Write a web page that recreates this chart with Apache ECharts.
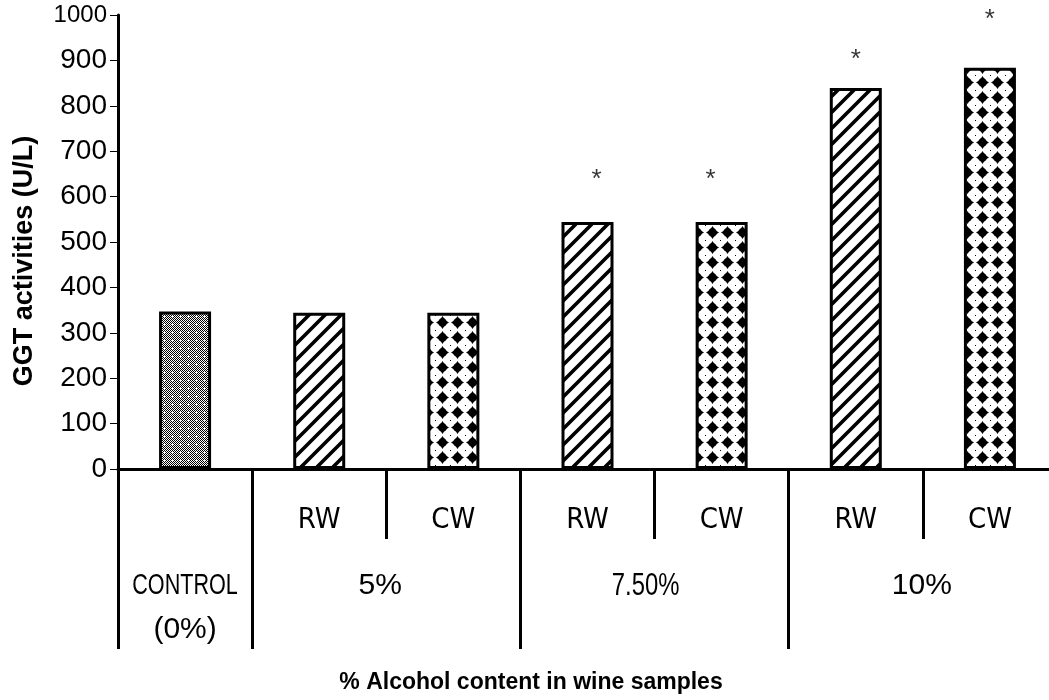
<!DOCTYPE html>
<html>
<head>
<meta charset="utf-8">
<script src="https://cdn.jsdelivr.net/npm/echarts@6/dist/echarts.min.js"></script>
<style>
html,body{margin:0;padding:0;background:#fff;}
#main{width:1049px;height:700px;}
</style>
</head>
<body>
<div id="main"></div>
<script>
// data
var categories = ['CONTROL', 'RW', 'CW', 'RW', 'CW', 'RW', 'CW'];
var fills = ['control', 'rw', 'cw', 'rw', 'cw', 'rw', 'cw'];
var ggt = [347, 344, 344, 544, 544, 839, 884];

var groupLabels = ['CONTROL', '5%', '7.50%', '10%'];
var groupFirst = [0, 1, 3, 5];
var groupLast = [0, 2, 4, 6];

// significance stars (category index, height in U/L)
var starCats = [3, 4, 5, 6];
var starLevel = [650, 650, 914, 1002];

var NARROW = "'Liberation Sans Narrow','DejaVu Sans Condensed','Arial Narrow',sans-serif";
var REGULAR = "'Liberation Sans',Arial,sans-serif";

function tile(w, h, paint) {
	var c = document.createElement('canvas');
	c.width = w; c.height = h;
	var g = c.getContext('2d');
	g.fillStyle = '#fff';
	g.fillRect(0, 0, w, h);
	paint(g);
	return {image: c, repeat: 'repeat'};
}

// fine dotted grey texture of the control bar
var controlFill = tile(8, 8, function(g){
	g.fillStyle = '#000';
	for (var y = 0; y < 8; y++) {
		for (var x = 0; x < 8; x++) {
			if ((x + y) % 2 === 0) g.fillRect(x, y, 1, 1);
		}
	}
	g.fillStyle = '#fff';
	g.fillRect(3, 4, 3, 1);
	g.fillRect(4, 3, 1, 3);
});

// diagonal hatch
var rwFill = tile(16, 16, function(g){
	g.strokeStyle = '#000';
	g.lineWidth = 3.6;
	g.beginPath();
	g.moveTo(-4, 20); g.lineTo(20, -4);
	g.moveTo(-12, 12); g.lineTo(12, -12);
	g.moveTo(4, 28); g.lineTo(28, 4);
	g.stroke();
});

// black diamonds
var cwFill = tile(15, 15, function(g){
	g.fillStyle = '#000';
	g.beginPath();
	g.arc(7.5, 7.5, 4.4, 0, Math.PI * 2);
	g.fill();
	g.beginPath();
	g.moveTo(7.5, 1); g.lineTo(11.5, 7.5); g.lineTo(7.5, 14); g.lineTo(3.5, 7.5);
	g.closePath();
	g.fill();
	g.beginPath();
	g.moveTo(1, 7.5); g.lineTo(7.5, 3.5); g.lineTo(14, 7.5); g.lineTo(7.5, 11.5);
	g.closePath();
	g.fill();
	g.fillRect(0, 0, 1, 1);
});

var fillMap = {control: controlFill, rw: rwFill, cw: cwFill};

var barData = [];
for (var i = 0; i < ggt.length; i++) {
	barData.push({value: ggt[i], itemStyle: {color: fillMap[fills[i]]}});
}
var starShift = [9, -11, 0, 0];
var starData = [];
for (var j = 0; j < starCats.length; j++) {
	starData.push({value: [starCats[j], starLevel[j]], label: {offset: [starShift[j], 6]}});
}

var myChart = echarts.init(document.getElementById('main'));

var option = {
	animation: false,
	backgroundColor: '#fff',
	grid: {left: 118, top: 15, width: 939, height: 454, outerBoundsMode: 'none', containLabel: false},
	xAxis: [
		{
			type: 'category',
			data: categories,
			position: 'bottom',
			axisLine: {show: true, lineStyle: {color: '#000', width: 3}},
			axisTick: {
				show: true, length: 70,
				interval: function(idx){ return idx === 2 || idx === 4 || idx === 6; },
				lineStyle: {color: '#000', width: 3}
			},
			axisLabel: {
				show: true, interval: 0, margin: 36,
				fontFamily: NARROW, fontSize: 29, lineHeight: 30, color: '#000',
				formatter: function(v, idx){ return idx === 0 ? '' : v; }
			},
			splitLine: {show: false}
		},
		{
			type: 'category',
			data: categories,
			position: 'bottom',
			axisLine: {show: false},
			axisTick: {
				show: true, length: 180,
				interval: function(idx){ return idx === 0 || idx === 1 || idx === 3 || idx === 5; },
				lineStyle: {color: '#000', width: 3}
			},
			axisLabel: {show: false},
			splitLine: {show: false}
		}
	],
	yAxis: {
		type: 'value',
		min: 0, max: 1000, interval: 100,
		axisLine: {show: true, lineStyle: {color: '#000', width: 3}},
		axisTick: {show: true, length: 8, lineStyle: {color: '#000', width: 1}},
		axisLabel: {
			margin: 11, fontFamily: REGULAR, fontSize: 28, color: '#000',
			formatter: function(v){ return v === 1000 ? '{n|1000}' : String(v); },
			rich: {n: {fontFamily: REGULAR, fontSize: 24, color: '#000'}}
		},
		splitLine: {show: false}
	},
	series: [
		{
			type: 'bar',
			xAxisIndex: 0,
			barWidth: 52,
			data: barData,
			itemStyle: {borderColor: '#000', borderWidth: 3}
		},
		{
			type: 'scatter',
			xAxisIndex: 0,
			clip: false,
			symbolSize: 1,
			itemStyle: {color: 'rgba(0,0,0,0)'},
			label: {
				show: true, position: 'inside', formatter: '*',
				fontFamily: REGULAR, fontSize: 26, color: '#000'
			},
			data: starData,
			z: 5
		}
	]
};

myChart.setOption(option);

// group labels under the RW / CW row, placed from the axis scale
var labelNudge = [0, -6, -9, -1];
var graphics = [];
var base = myChart.convertToPixel({gridIndex: 0}, [0, 0]);
for (var k = 0; k < groupLabels.length; k++) {
	var a = myChart.convertToPixel({gridIndex: 0}, [groupFirst[k], 0]);
	var b = myChart.convertToPixel({gridIndex: 0}, [groupLast[k], 0]);
	var cx = (a[0] + b[0]) / 2 + labelNudge[k];
	if (k === 0) {
		graphics.push({type: 'text', x: cx, y: base[1] + 117, scaleX: 0.72, style: {
			text: 'CONTROL', fontFamily: REGULAR, fontSize: 30, fill: '#000',
			textAlign: 'center', textVerticalAlign: 'middle'}});
		graphics.push({type: 'text', x: cx, y: base[1] + 161, style: {
			text: '(0%)', fontFamily: REGULAR, fontSize: 30, fill: '#000',
			textAlign: 'center', textVerticalAlign: 'middle'}});
	} else {
		var narrow = groupLabels[k].indexOf('.') >= 0;
		graphics.push({type: 'text', x: cx, y: base[1] + 117, scaleX: narrow ? 0.77 : 1, style: {
			text: groupLabels[k], fontFamily: REGULAR,
			fontSize: narrow ? 31 : 30, fill: '#000',
			textAlign: 'center', textVerticalAlign: 'middle'}});
	}
}
graphics.push({type: 'text', x: 25, y: 261, rotation: Math.PI / 2, style: {
	text: 'GGT activities (U/L)', fontFamily: REGULAR, fontWeight: 'bold', fontSize: 27,
	fill: '#000', textAlign: 'center', textVerticalAlign: 'middle'}});
graphics.push({type: 'text', x: 531, y: 683, style: {
	text: '% Alcohol content in wine samples', fontFamily: REGULAR, fontWeight: 'bold', fontSize: 23,
	fill: '#000', textAlign: 'center', textVerticalAlign: 'middle'}});

myChart.setOption({graphic: graphics});
</script>
</body>
</html>
